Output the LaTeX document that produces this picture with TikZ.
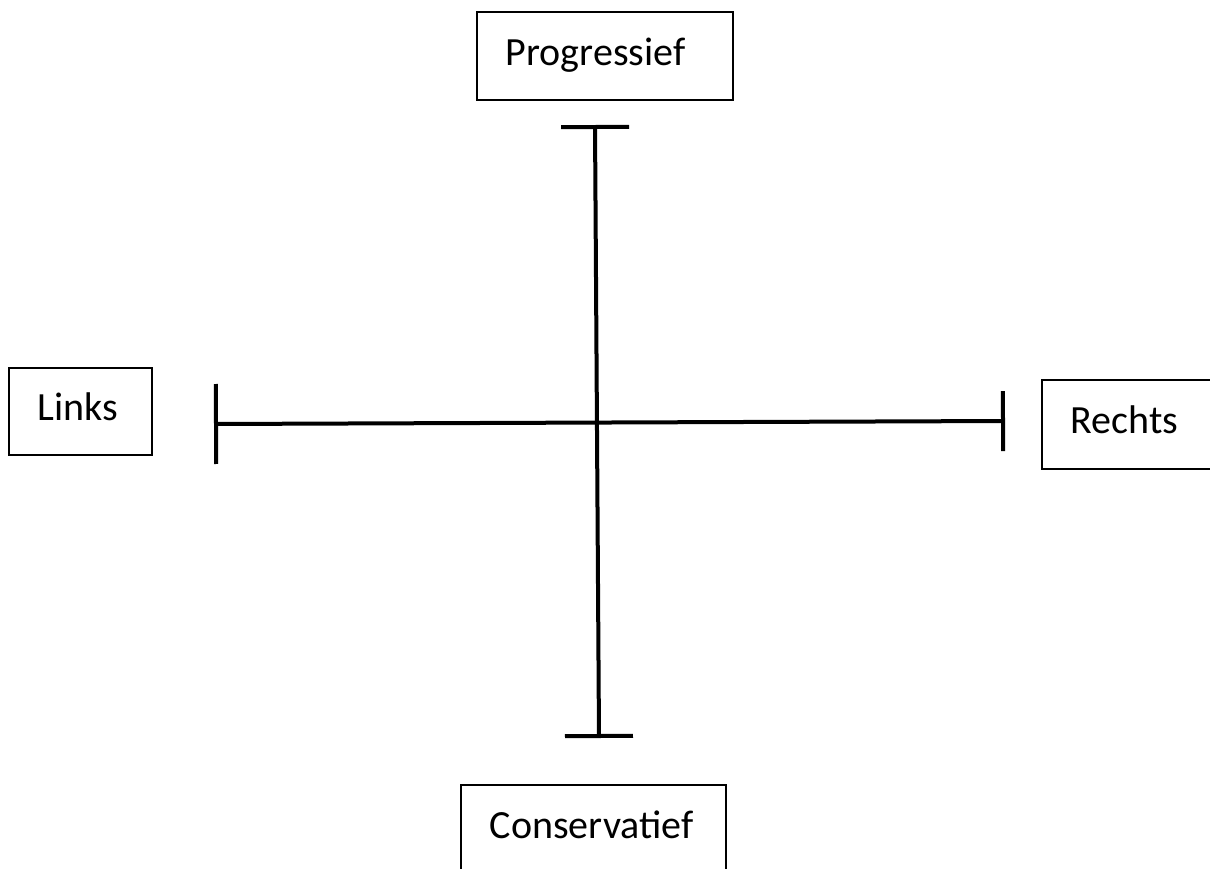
\documentclass[tikz,border=0pt]{standalone}
\usepackage{fontspec}
\setmainfont{Carlito}
\usetikzlibrary{arrows.meta}

\tikzset{
  vak/.style={draw,line width=1.6pt,anchor=north west,align=left,inner xsep=29pt,
    text height=29pt,text depth=10pt,font=\fontsize{40pt}{48pt}\selectfont},
  as/.style={line width=4pt}
}

\begin{document}
\begin{tikzpicture}[x=1pt,y=-1pt]
\useasboundingbox (0,0) rectangle (1210,868);
\node[vak,text width=198pt,minimum height=88pt] (prog) at (476,11) {Progressief};
\node[vak,text width=85pt,minimum height=87pt] (links) at (8,367) {Links};
\node[vak,text width=112pt,minimum height=89pt] (rechts) at (1041,379) {Rechts};
\node[vak,text width=207pt,minimum height=88pt] (cons) at (460,784) {Conservatief};
\coordinate (P) at (595,125);
\coordinate (C) at (599,738);
\coordinate (L) at (214,424);
\coordinate (R) at (1005,421);
\draw[as,{Bar[width=68pt]}-{Bar[width=68pt]}] (P)--(C);
\draw[as,{Bar[width=80pt]}-{Bar[width=60pt]}] (L)--(R);
\end{tikzpicture}
\end{document}
